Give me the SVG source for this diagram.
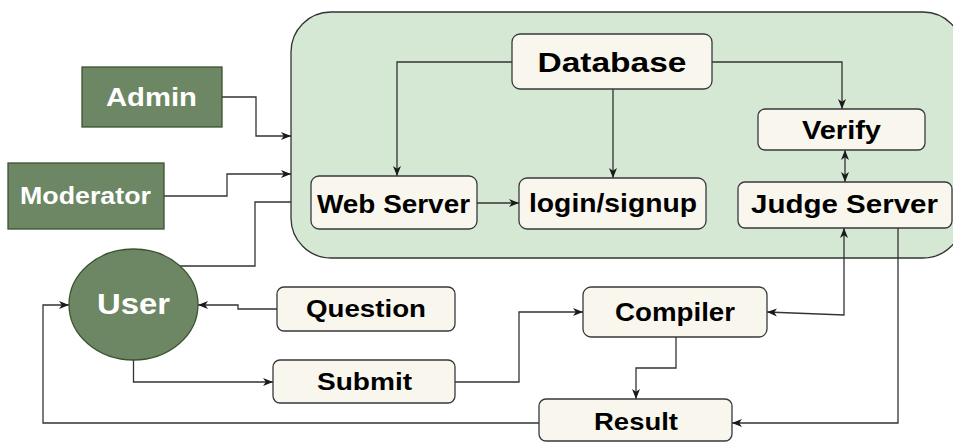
<svg xmlns="http://www.w3.org/2000/svg" width="953" height="443" viewBox="0 0 953 443">
  <defs>
    <marker id="arrow" markerUnits="userSpaceOnUse" markerWidth="11" markerHeight="9" refX="10" refY="4.5" orient="auto-start-reverse" viewBox="0 0 11 9">
      <path d="M0,0.5 L10,4.5 L0,8.5 L2.8,4.5 Z" fill="#1a1a1a"/>
    </marker>
    <style>
      .box { fill: #f9f7ed; stroke: #36393d; stroke-width: 1.3; }
      .actor { fill: #6d8764; stroke: #3a5431; stroke-width: 1.3; }
      .zone { fill: #d5e8d4; stroke: #333333; stroke-width: 1.3; }
      .lbl { font-family: "Liberation Sans", Arial, sans-serif; font-weight: bold; fill: #000; text-anchor: middle; }
      .wlbl { font-family: "Liberation Sans", Arial, sans-serif; font-weight: bold; fill: #ffffff; text-anchor: middle; }
      .wire { fill: none; stroke: #333333; stroke-width: 1.3; }
      .to { marker-end: url(#arrow); }
      .both { marker-start: url(#arrow); marker-end: url(#arrow); }
    </style>
  </defs>

  <!-- server-side zone -->
  <rect class="zone" x="291" y="12" width="672" height="246" rx="40" ry="40"/>

  <!-- connectors -->
  <g id="connectors">
    <path class="wire to" d="M222,97 H256 V136 H291"/>
    <path class="wire to" d="M164,196 H227 V174 H291"/>
    <path class="wire" d="M180,266 H255 V202 H291"/>
    <path class="wire to" d="M512,62 H397 V176"/>
    <path class="wire to" d="M613,89 V178"/>
    <path class="wire to" d="M712,62 H842 V109"/>
    <path class="wire to" d="M477,203 H519"/>
    <path class="wire both" d="M845,150 V182"/>
    <path class="wire both" d="M844,228 V315 L767,312"/>
    <path class="wire to" d="M898,228 V423 H732"/>
    <path class="wire to" d="M277,309 H238 V305 H198"/>
    <path class="wire to" d="M133.5,360 V382 H273"/>
    <path class="wire to" d="M455,382 H519 V312 H583"/>
    <path class="wire to" d="M676,337 V368 H636 V399"/>
    <path class="wire to" d="M539,423 H43 V305 H69"/>
  </g>

  <!-- actors -->
  <g id="admin">
    <rect class="actor" x="82" y="67" width="140" height="60"/>
    <text class="wlbl" x="151.5" y="106" font-size="26" textLength="91" lengthAdjust="spacingAndGlyphs">Admin</text>
  </g>
  <g id="moderator">
    <rect class="actor" x="8" y="163" width="156" height="66"/>
    <text class="wlbl" x="85.5" y="204" font-size="23.5" textLength="131" lengthAdjust="spacingAndGlyphs">Moderator</text>
  </g>
  <g id="user">
    <ellipse class="actor" cx="133.5" cy="304.5" rx="64.5" ry="55.5"/>
    <text class="wlbl" x="133.5" y="314" font-size="29" textLength="73" lengthAdjust="spacingAndGlyphs">User</text>
  </g>

  <!-- server components -->
  <g id="database">
    <rect class="box" x="512" y="34" width="200" height="55" rx="8"/>
    <text class="lbl" x="612" y="72" font-size="28" textLength="149" lengthAdjust="spacingAndGlyphs">Database</text>
  </g>
  <g id="verify">
    <rect class="box" x="758" y="109" width="167" height="41" rx="7"/>
    <text class="lbl" x="841.5" y="139" font-size="25" textLength="79" lengthAdjust="spacingAndGlyphs">Verify</text>
  </g>
  <g id="judge-server">
    <rect class="box" x="738" y="182" width="214" height="46" rx="7"/>
    <text class="lbl" x="844.5" y="213" font-size="25" textLength="187" lengthAdjust="spacingAndGlyphs">Judge Server</text>
  </g>
  <g id="web-server">
    <rect class="box" x="311" y="176" width="166" height="53" rx="8"/>
    <text class="lbl" x="393.5" y="213" font-size="25" textLength="153" lengthAdjust="spacingAndGlyphs">Web Server</text>
  </g>
  <g id="login-signup">
    <rect class="box" x="519" y="178" width="187" height="51" rx="8"/>
    <text class="lbl" x="613" y="212" font-size="25" textLength="168" lengthAdjust="spacingAndGlyphs">login/signup</text>
  </g>

  <!-- submission flow -->
  <g id="question">
    <rect class="box" x="277" y="287" width="178" height="44" rx="7"/>
    <text class="lbl" x="366" y="317" font-size="23" textLength="120" lengthAdjust="spacingAndGlyphs">Question</text>
  </g>
  <g id="submit">
    <rect class="box" x="273" y="360" width="182" height="43" rx="7"/>
    <text class="lbl" x="364.5" y="390" font-size="24" textLength="95" lengthAdjust="spacingAndGlyphs">Submit</text>
  </g>
  <g id="compiler">
    <rect class="box" x="583" y="287" width="184" height="50" rx="8"/>
    <text class="lbl" x="675" y="321" font-size="25" textLength="120" lengthAdjust="spacingAndGlyphs">Compiler</text>
  </g>
  <g id="result">
    <rect class="box" x="539" y="399" width="193" height="42" rx="7"/>
    <text class="lbl" x="636" y="430" font-size="24" textLength="84" lengthAdjust="spacingAndGlyphs">Result</text>
  </g>
</svg>
